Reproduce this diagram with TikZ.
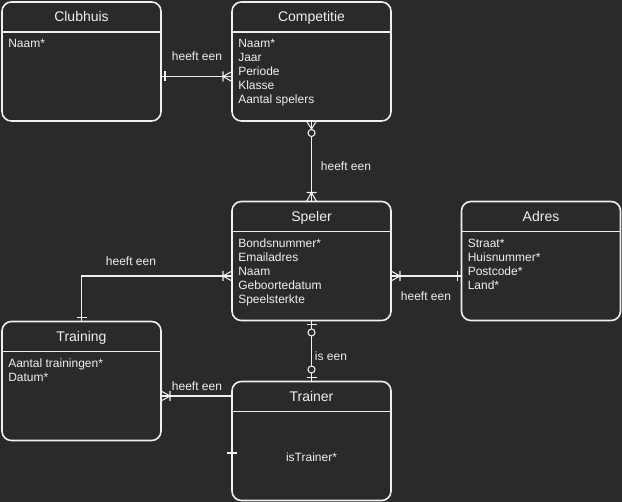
\documentclass[tikz,border=0pt]{standalone}
\usepackage{fontspec}
\setmainfont{Liberation Sans}
\usetikzlibrary{calc}

\definecolor{bgc}{HTML}{2A2A2A}
\definecolor{linec}{HTML}{F0F0F0}

% crow's foot ends, drawn along +x away from the entity
\tikzset{
  one/.pic={\draw[linec, line width=.8pt] (4,-5) -- (4,5);},
  onemany/.pic={\draw[linec, line width=.8pt] (0,-5) -- (9,0) -- (0,5) (9,-5) -- (9,5);},
  zeromany/.pic={\draw[linec, line width=.8pt] (0,-5) -- (8,0) -- (0,5);
                 \draw[linec, line width=.8pt, fill=bgc] (12,0) circle (3.5);},
  zeroone/.pic={\draw[linec, line width=.8pt] (4,-5) -- (4,5);
                \draw[linec, line width=.8pt, fill=bgc] (12,0) circle (3.5);},
}

\begin{document}
\begin{tikzpicture}[x=.75pt, y=-.75pt,
  entity/.style={draw=linec, line width=1.2pt, rounded corners=7pt, outer sep=0pt,
                 minimum width=119.25pt, minimum height=89.25pt, inner sep=0pt},
  title/.style={text=linec, anchor=base, inner sep=0pt, font=\fontsize{10.5pt}{12pt}\selectfont},
  field/.style={text=linec, anchor=base west, inner sep=0pt, font=\fontsize{9pt}{10.5pt}\selectfont},
  lbl/.style={text=linec, inner sep=0pt, font=\fontsize{9pt}{10.5pt}\selectfont},
  conn/.style={draw=linec, line width=.8pt},
  divider/.style={draw=linec, line width=1.2pt}]

\fill[bgc] (0,0) rectangle (622,502);
\useasboundingbox (0,0) rectangle (622,502);

% entities
\node[entity] (clubhuis) at (81.5,61.5) {};
\node[entity] (competitie) at (311.5,61.5) {};
\node[entity] (speler) at (311.5,261) {};
\node[entity] (adres) at (541,261) {};
\node[entity] (training) at (81.5,381) {};
\node[entity] (trainer) at (311.5,441) {};

\foreach \e/\t in {clubhuis/Clubhuis, competitie/Competitie, speler/Speler,
                   adres/Adres, training/Training, trainer/Trainer}
{
    \node[title] (\e-title) at ($(\e.north)+(0,20)$) {\t};
    \draw[divider] ($(\e.north west)+(0,30)$) -- ($(\e.north east)+(0,30)$);
}

% attributes
\node[field] (clubhuis-1) at ($(clubhuis.north west)+(6,46)$) {Naam*};
\foreach \t [count=\i] in {Naam*, Jaar, Periode, Klasse, Aantal spelers}
    \node[field] (competitie-\i) at ($(competitie.north west)+(6,32+14*\i)$) {\t};
\foreach \t [count=\i] in {Bondsnummer*, Emailadres, Naam, Geboortedatum, Speelsterkte}
    \node[field] (speler-\i) at ($(speler.north west)+(6,32+14*\i)$) {\t};
\foreach \t [count=\i] in {Straat*, Huisnummer*, Postcode*, Land*}
    \node[field] (adres-\i) at ($(adres.north west)+(6,32+14*\i)$) {\t};
\foreach \t [count=\i] in {Aantal trainingen*, Datum*}
    \node[field] (training-\i) at ($(training.north west)+(6,32+14*\i)$) {\t};
\node[title, font=\fontsize{9pt}{10.5pt}\selectfont] (trainer-1) at ($(trainer.north)+(0,80)$) {isTrainer*};

% relations
\coordinate (c1a) at ($(clubhuis.east)+(0,15)$);
\coordinate (c1b) at ($(competitie.west)+(0,15)$);
\draw[conn] (c1a) -- (c1b);
\pic at (c1a) {one}; \pic[rotate=180] at (c1b) {onemany};
\node[lbl] (l1) at (197,56) {heeft een};

\draw[conn] (competitie.south) -- (speler.north);
\pic[rotate=-90] at (competitie.south) {zeromany}; \pic[rotate=90] at (speler.north) {onemany};
\node[lbl] (l2) at (346,166) {heeft een};

\coordinate (c3a) at ($(speler.west)+(0,15)$);
\draw[conn] (c3a) -| (training.north);
\pic[rotate=180] at (c3a) {onemany}; \pic[rotate=90] at (training.north) {one};
\node[lbl] (l3) at (131,261) {heeft een};

\coordinate (c4a) at ($(speler.east)+(0,15)$);
\coordinate (c4b) at ($(adres.west)+(0,15)$);
\draw[conn] (c4a) -- (c4b);
\pic at (c4a) {onemany}; \pic[rotate=180] at (c4b) {one};
\node[lbl] (l4) at (426,296) {heeft een};

\draw[conn] (speler.south) -- (trainer.north);
\pic[rotate=-90] at (speler.south) {zeroone}; \pic[rotate=90] at (trainer.north) {zeroone};
\node[lbl] (l5) at (331,356) {is een};

\coordinate (c6a) at ($(trainer.west)+(0,-45)$);
\coordinate (c6b) at ($(training.east)+(0,15)$);
\draw[conn] (c6a) -- (c6b);
\pic at (c6b) {onemany};
\node[lbl] (l6) at (197,386) {heeft een};

\draw[conn] ($(trainer.west)+(-5,12)$) -- ++(10,0);

\end{tikzpicture}
\end{document}
